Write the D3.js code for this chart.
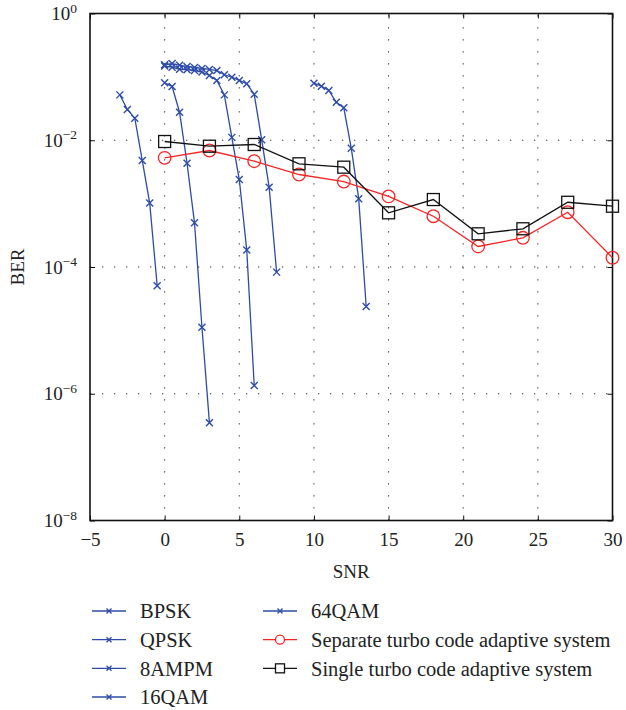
<!DOCTYPE html>
<html lang="en">
<head>
    <meta charset="UTF-8">
    <title>BER vs SNR</title>
    <style>
        body {
            margin: 0;
            background: #fff;
        }
        svg {
            display: block;
        }
        svg text {
            font-family: "Liberation Serif", "Times New Roman", "DejaVu Serif", serif;
        }
    </style>
</head>
<body>
    <div id="chart"></div>

    <script src="https://d3js.org/d3.v7.min.js"></script>
    <script>
        // curves
        const bpskSnr = [-3, -2.5, -2, -1.5, -1, -0.5]
        const bpskBer = [0.052, 0.0306, 0.0223, 0.0048, 0.00102, 5.05e-5]

        const qpskSnr = [0, 0.5, 1, 1.5, 2, 2.5, 3]
        const qpskBer = [0.0806, 0.0705, 0.0277, 0.00434, 4.98e-4, 1.12e-5, 3.5e-7]

        const ampmSnr = [0, 0.5, 1, 1.5, 2, 2.5, 3, 3.5, 4, 4.5, 5, 5.5, 6]
        const ampmBer = [0.148, 0.142, 0.132, 0.13, 0.126, 0.119, 0.105, 0.088, 0.052, 0.0111, 0.0024, 1.85e-4, 1.35e-6]

        const qam16Snr = [0, 0.5, 1, 1.5, 2, 2.5, 3, 3.5, 4, 4.5, 5, 5.5, 6, 6.5, 7, 7.5]
        const qam16Ber = [0.155, 0.162, 0.152, 0.146, 0.141, 0.136, 0.131, 0.126, 0.108, 0.099, 0.088, 0.078, 0.053, 0.0102, 0.00182, 8.3e-5]

        const qam64Snr = [10, 10.5, 11, 11.5, 12, 12.5, 13, 13.5]
        const qam64Ber = [0.0795, 0.0713, 0.061, 0.0398, 0.0325, 0.0075, 0.00119, 2.38e-5]

        const adaptSnr = [0, 3, 6, 9, 12, 15, 18, 21, 24, 27, 30]
        const separateBer = [0.00528, 0.00689, 0.00467, 0.00288, 0.00223, 0.0013, 6.33e-4, 2.11e-4, 2.89e-4, 7.32e-4, 1.4e-4]
        const singleBer = [0.00955, 0.00805, 0.00857, 0.00425, 0.00376, 7.16e-4, 0.00116, 3.34e-4, 4.01e-4, 0.00105, 9.1e-4]

        const xTicks = [-5, 0, 5, 10, 15, 20, 25, 30]
        const yExponents = [0, -2, -4, -6, -8]

        const width = 626
        const height = 710
        const plot = { left: 90, right: 612.5, top: 13.5, bottom: 520.5 }
        const serifFont = '"Liberation Serif", "Times New Roman", "DejaVu Serif", serif'
        const blue = '#2d4ba8'
        const red = '#f52424'
        const black = '#111'
        const textColor = '#222'

        const series = [
            { name: 'BPSK', snr: bpskSnr, ber: bpskBer, color: blue, marker: 'x' },
            { name: 'QPSK', snr: qpskSnr, ber: qpskBer, color: blue, marker: 'x' },
            { name: '8AMPM', snr: ampmSnr, ber: ampmBer, color: blue, marker: 'x' },
            { name: '16QAM', snr: qam16Snr, ber: qam16Ber, color: blue, marker: 'x' },
            { name: '64QAM', snr: qam64Snr, ber: qam64Ber, color: blue, marker: 'x' },
            { name: 'Separate turbo code adaptive system', snr: adaptSnr, ber: separateBer, color: red, marker: 'o' },
            { name: 'Single turbo code adaptive system', snr: adaptSnr, ber: singleBer, color: black, marker: 's' }
        ]

        const x = d3.scaleLinear()
            .domain([-5, 30])
            .range([plot.left, plot.right])

        const y = d3.scaleLog()
            .domain([1e-8, 1])
            .range([plot.bottom, plot.top])

        const svg = d3.select('#chart')
            .append('svg')
            .attr('width', width)
            .attr('height', height)
            .attr('font-family', serifFont)

        drawGrid()
        drawAxes()
        drawSeries()
        drawLegend()

        function drawGrid() {
            const grid = svg.append('g')
                .attr('stroke', '#333')
                .attr('stroke-width', 1)
                .attr('stroke-dasharray', '1.3,10.7')

            grid.selectAll('.vx')
                .data(xTicks.slice(1, -1))
                .join('line')
                .attr('x1', d => x(d)).attr('x2', d => x(d))
                .attr('y1', plot.bottom).attr('y2', plot.top)

            grid.selectAll('.hy')
                .data(yExponents.slice(1, -1))
                .join('line')
                .attr('x1', plot.left).attr('x2', plot.right)
                .attr('y1', d => y(Math.pow(10, d))).attr('y2', d => y(Math.pow(10, d)))
        }

        function drawAxes() {
            const fmtMinus = d => String(d).replace('-', '\u2212')

            svg.append('g')
                .attr('transform', `translate(0, ${plot.bottom})`)
                .call(d3.axisBottom(x).tickValues(xTicks).tickSize(-5).tickPadding(12).tickFormat(fmtMinus))
                .attr('font-family', serifFont)
                .call(g => g.select('.domain').remove())
                .call(g => g.selectAll('text').attr('fill', textColor).attr('font-size', 19))

            svg.append('g')
                .attr('transform', `translate(0, ${plot.top})`)
                .call(d3.axisTop(x).tickValues(xTicks).tickSize(-5).tickFormat(''))
                .call(g => g.select('.domain').remove())

            svg.append('g')
                .attr('transform', `translate(${plot.left}, 0)`)
                .call(d3.axisLeft(y).tickValues(yExponents.map(e => Math.pow(10, e))).tickSize(-5).tickPadding(13).tickFormat(''))
                .attr('font-family', serifFont)
                .call(g => g.select('.domain').remove())
                .call(g => g.selectAll('.tick text').each(function (d) {
                    const t = d3.select(this)
                        .attr('fill', textColor)
                        .attr('font-size', 19)
                    t.append('tspan').text('10')
                    t.append('tspan')
                        .attr('dy', '-0.55em')
                        .attr('font-size', 13.5)
                        .text(fmtMinus(Math.round(Math.log10(d))))
                }))

            svg.append('g')
                .attr('transform', `translate(${plot.right}, 0)`)
                .call(d3.axisRight(y).tickValues(yExponents.map(e => Math.pow(10, e))).tickSize(-5).tickFormat(''))
                .call(g => g.select('.domain').remove())

            svg.selectAll('.tick line').attr('stroke', '#111')

            // frame
            svg.append('rect')
                .attr('x', plot.left)
                .attr('y', plot.top)
                .attr('width', plot.right - plot.left)
                .attr('height', plot.bottom - plot.top)
                .attr('fill', 'none')
                .attr('stroke', '#111')
                .attr('stroke-width', 1.6)

            svg.append('text')
                .attr('x', (plot.left + plot.right) / 2)
                .attr('y', 578)
                .attr('text-anchor', 'middle')
                .attr('fill', textColor)
                .attr('font-size', 19)
                .text('SNR')

            svg.append('text')
                .attr('transform', `translate(24, ${(plot.top + plot.bottom) / 2}) rotate(-90)`)
                .attr('text-anchor', 'middle')
                .attr('fill', textColor)
                .attr('font-size', 19)
                .text('BER')
        }

        function drawMarker(g, type, color) {
            if (type === 'x') {
                g.append('path')
                    .attr('d', 'M-3.5,-3.5L3.5,3.5M-3.5,3.5L3.5,-3.5')
                    .attr('stroke', color)
                    .attr('stroke-width', 1.4)
                    .attr('fill', 'none')
            } else if (type === 'o') {
                g.append('circle')
                    .attr('r', 6.3)
                    .attr('stroke', color)
                    .attr('stroke-width', 1.3)
                    .attr('fill', 'none')
            } else {
                g.append('rect')
                    .attr('x', -6).attr('y', -6)
                    .attr('width', 12).attr('height', 12)
                    .attr('stroke', color)
                    .attr('stroke-width', 1.3)
                    .attr('fill', 'none')
            }
        }

        function drawSeries() {
            const line = d3.line()
                .x(d => x(d[0]))
                .y(d => y(d[1]))

            const root = svg.append('g').attr('class', 'series')

            for (const s of series) {
                const pts = s.snr.map((v, i) => [v, s.ber[i]])
                const g = root.append('g')

                g.append('path')
                    .attr('d', line(pts))
                    .attr('fill', 'none')
                    .attr('stroke', s.color)
                    .attr('stroke-width', 1.3)

                g.selectAll('g')
                    .data(pts)
                    .join('g')
                    .attr('transform', d => `translate(${x(d[0])}, ${y(d[1])})`)
                    .each(function () {
                        drawMarker(d3.select(this), s.marker, s.color)
                    })
            }
        }

        function drawLegend() {
            const rowY = d3.scaleLinear().domain([0, 3]).range([611, 697])
            const colX = [92, 263]

            const items = svg.append('g')
                .attr('class', 'legend')
                .selectAll('g')
                .data(series)
                .join('g')
                .attr('transform', (d, i) => {
                    const col = i < 4 ? 0 : 1
                    const row = i < 4 ? i : i - 4
                    return `translate(${colX[col]}, ${rowY(row)})`
                })

            items.append('line')
                .attr('x1', 0).attr('x2', 34)
                .attr('stroke', d => d.color)
                .attr('stroke-width', 1.3)

            items.append('g')
                .attr('transform', 'translate(17, 0)')
                .each(function (d) {
                    const g = d3.select(this)
                    if (d.marker === 'x') {
                        g.append('path')
                            .attr('d', 'M-2.5,-2.5L2.5,2.5M-2.5,2.5L2.5,-2.5')
                            .attr('stroke', d.color)
                            .attr('stroke-width', 1.3)
                    } else if (d.marker === 'o') {
                        g.append('circle').attr('r', 4.5)
                            .attr('fill', '#fff').attr('stroke', d.color).attr('stroke-width', 1.3)
                    } else {
                        g.append('rect').attr('x', -4.5).attr('y', -4.5).attr('width', 9).attr('height', 9)
                            .attr('fill', '#fff').attr('stroke', d.color).attr('stroke-width', 1.3)
                    }
                })

            items.append('text')
                .attr('x', 48)
                .attr('dy', '0.35em')
                .attr('fill', textColor)
                .attr('font-size', 20.5)
                .text(d => d.name)
        }
    </script>
</body>
</html>
